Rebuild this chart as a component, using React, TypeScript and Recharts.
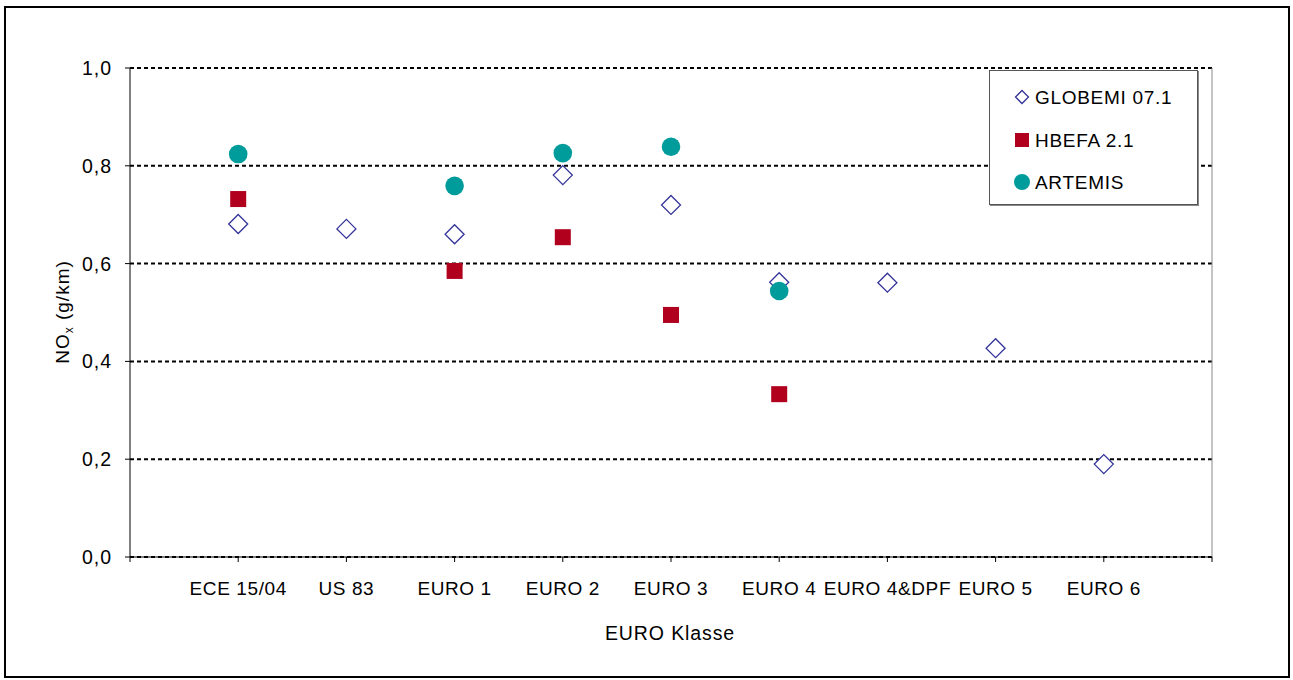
import { ScatterChart, Scatter, XAxis, YAxis, CartesianGrid, ReferenceLine } from 'recharts'

const categories = ['ECE 15/04', 'US 83', 'EURO 1', 'EURO 2', 'EURO 3', 'EURO 4', 'EURO 4&DPF', 'EURO 5', 'EURO 6']
const globemi = [0.681, 0.671, 0.66, 0.781, 0.72, 0.562, 0.561, 0.427, 0.19]
const hbefa = [0.732, null, 0.585, 0.654, 0.495, 0.333, null, null, null]
const artemis = [0.824, null, 0.759, 0.826, 0.839, 0.544, null, null, null]
const seriesNames = ['GLOBEMI 07.1', 'HBEFA 2.1', 'ARTEMIS']
const yTicks = [0, 0.2, 0.4, 0.6, 0.8, 1.0]
const xTicks = [0, 1, 2, 3, 4, 5, 6, 7, 8, 9, 10]

const FONT = '"Liberation Sans", Arial, sans-serif'
const BLUE = '#333399'
const RED = '#b0001e'
const TEAL = '#009b9b'

const toPoints = (values: (number | null)[]) =>
  values
    .map((v, i) => ({ x: i + 1, y: v }))
    .filter((p) => p.y !== null)

const Diamond = ({ cx, cy, r = 9.5 }: any) => (
  <path
    d={`M${cx},${cy - r} L${cx + r},${cy} L${cx},${cy + r} L${cx - r},${cy} Z`}
    fill="#fff"
    stroke={BLUE}
    strokeWidth={1.3}
  />
)
const Square = ({ cx, cy }: any) => <rect x={cx - 8} y={cy - 8} width={16} height={16} fill={RED} />
const Dot = ({ cx, cy }: any) => <circle cx={cx} cy={cy} r={9.3} fill={TEAL} />

const XTitle = () => (
  <text x={670} y={640} textAnchor="middle" fontSize={19.5} letterSpacing={0.9} fill="#000" fontFamily={FONT}>
    EURO Klasse
  </text>
)

const YTitle = () => (
  <text
    x={69}
    y={312}
    transform="rotate(-90, 69, 312)"
    textAnchor="middle"
    fontSize={19}
    letterSpacing={1}
    fill="#000"
    fontFamily={FONT}
  >
    NO
    <tspan fontSize={12} dy={4}>x</tspan>
    <tspan dy={-4}> (g/km)</tspan>
  </text>
)

// legend drawn by hand, Excel style box in the top right corner
const LegendBox = () => {
  const rowY = [26, 69, 111]
  const icons = [
    <Diamond key="d" cx={32} cy={rowY[0]} r={6.5} />,
    <rect key="s" x={25} y={rowY[1] - 7} width={14} height={14} fill={RED} />,
    <circle key="c" cx={32} cy={rowY[2]} r={8} fill={TEAL} />,
  ]
  return (
    <div
      style={{
        position: 'absolute',
        left: 989,
        top: 70,
        width: 207,
        height: 133,
        border: '1px solid #555',
        boxShadow: '1px 1px 0 #888',
        background: '#fff',
      }}
    >
      <svg width={207} height={133} style={{ display: 'block' }}>
        {seriesNames.map((name, i) => (
          <g key={name}>
            {icons[i]}
            <text x={45} y={rowY[i] + 7} fontSize={19} letterSpacing={0.7} fontFamily={FONT} fill="#000">
              {name}
            </text>
          </g>
        ))}
      </svg>
    </div>
  )
}

export default function App() {
  return (
    <div style={{ position: 'absolute', left: 0, top: 0, width: 1293, height: 680, background: '#fff' }}>
      <ScatterChart width={1293} height={680} margin={{ top: 68, right: 81, bottom: 63, left: 0 }}>
        <CartesianGrid horizontal vertical={false} stroke="#000" strokeWidth={2} strokeDasharray="4 3" />
        <ReferenceLine x={10} stroke="#888" strokeWidth={1} />
        <XAxis
          type="number"
          dataKey="x"
          domain={[0, 10]}
          ticks={xTicks}
          interval={0}
          tickFormatter={(v: number) => categories[v - 1] ?? ''}
          stroke="#000"
          tickSize={5}
          tickMargin={20}
          height={60}
          tick={{ fill: '#000', fontSize: 19, fontFamily: FONT, letterSpacing: 0.6 }}
          label={<XTitle />}
        />
        <YAxis
          type="number"
          dataKey="y"
          domain={[0, 1]}
          ticks={yTicks}
          interval={0}
          tickFormatter={(v: number) => v.toFixed(1).replace('.', ',')}
          stroke="#000"
          tickSize={5}
          tickMargin={13}
          width={130}
          tick={{ fill: '#000', fontSize: 19.5, fontFamily: FONT, letterSpacing: 1 }}
          label={<YTitle />}
        />
        <Scatter name={seriesNames[0]} data={toPoints(globemi)} shape={<Diamond />} isAnimationActive={false} />
        <Scatter name={seriesNames[1]} data={toPoints(hbefa)} shape={<Square />} isAnimationActive={false} />
        <Scatter name={seriesNames[2]} data={toPoints(artemis)} shape={<Dot />} isAnimationActive={false} />
      </ScatterChart>
      <LegendBox />
      <div
        style={{
          position: 'absolute',
          left: 4,
          top: 6,
          width: 1282,
          height: 668,
          border: '2.5px solid #000',
          pointerEvents: 'none',
        }}
      />
    </div>
  )
}
